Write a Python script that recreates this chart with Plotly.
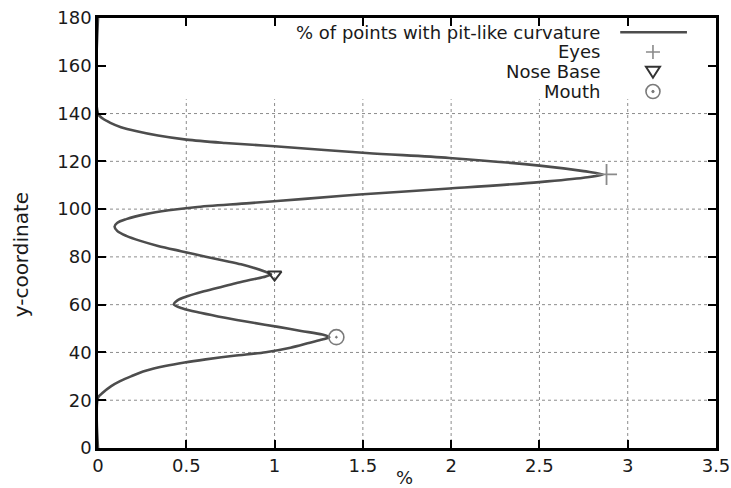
import plotly.graph_objects as go

# Vertical profile: share of points with pit-like curvature per y-coordinate
y_coord = [0, 21, 23, 25.9, 28, 30.1, 32.3, 34.3, 35.8, 37.1, 38.6, 40.1, 42, 44.1,
           45.4, 46.4, 47.5, 49, 50.7, 52.4, 54.5, 56.6, 58.4, 60.1, 61.8, 63.6,
           65.4, 67.1, 69, 70.6, 71.8, 72.7, 74, 75.5, 76.9, 78.5, 80.1, 82.4,
           84.6, 86.7, 88.8, 90.8, 92.7, 94.3, 95.8, 97.9, 99.5, 100.8, 102.5,
           104.3, 106.1, 108.6, 111.3, 113.1, 114.5, 115.9, 118.2, 121.4, 123.5,
           126.3, 127.7, 129.1, 130.8, 132.6, 134.3, 136.1, 138, 140, 180]
pct = [0, 0, 0.025, 0.075, 0.125, 0.19, 0.27, 0.38, 0.49, 0.61, 0.77, 0.95, 1.09, 1.20,
       1.27, 1.31, 1.27, 1.15, 1.02, 0.88, 0.72, 0.58, 0.48, 0.43, 0.45, 0.51,
       0.59, 0.68, 0.78, 0.88, 0.95, 0.98, 0.94, 0.88, 0.81, 0.71, 0.61, 0.47,
       0.34, 0.24, 0.16, 0.11, 0.094, 0.11, 0.16, 0.27, 0.40, 0.55, 0.86,
       1.17, 1.48, 1.99, 2.50, 2.75, 2.86, 2.75, 2.50, 1.99, 1.52,
       1.00, 0.72, 0.50, 0.34, 0.22, 0.13, 0.07, 0.025, 0, 0]

# Facial landmarks
eyes_x, eyes_y = [2.88], [114.5]
nose_x, nose_y = [1.0], [72.6]
mouth_x, mouth_y = [1.35], [46.4]

x_ticks = [0, 0.5, 1, 1.5, 2, 2.5, 3, 3.5]
x_tick_text = ["0", "0.5", "1", "1.5", "2", "2.5", "3", "3.5"]
y_ticks = [0, 20, 40, 60, 80, 100, 120, 140, 160, 180]

key_labels = ["% of points with pit-like curvature", "Eyes", "Nose Base", "Mouth"]
x_title = "%"
y_title = "y-coordinate"

FONT = "DejaVu Sans"
TXT = "#1a1a1a"
CURVE = "#4d4d4d"
EYE_C = "#8a8a8a"
NOSE_C = "#333333"
MOUTH_C = "#7a7a7a"
GRID_C = "#8c8c8c"

fig = go.Figure()

fig.add_trace(go.Scatter(x=pct, y=y_coord, mode="lines",
                         line=dict(color=CURVE, width=2.6, shape="spline", smoothing=0.9),
                         name=key_labels[0]))
fig.add_trace(go.Scatter(x=eyes_x, y=eyes_y, mode="markers", name=key_labels[1],
                         marker=dict(symbol="cross-thin-open", size=15, color=EYE_C,
                                     line=dict(color=EYE_C, width=1.8))))
fig.add_trace(go.Scatter(x=nose_x, y=nose_y, mode="markers", name=key_labels[2],
                         marker=dict(symbol="triangle-down-open", size=12, color=NOSE_C,
                                     line=dict(color=NOSE_C, width=2))))
fig.add_trace(go.Scatter(x=mouth_x, y=mouth_y, mode="markers", name=key_labels[3],
                         marker=dict(symbol="circle-open-dot", size=15, color=MOUTH_C,
                                     line=dict(color=MOUTH_C, width=1.6))))

# Dotted grid, kept below the key area
shapes = []
grid_top = 146
for xv in x_ticks[1:-1]:
    shapes.append(dict(type="line", xref="x", yref="y", x0=xv, x1=xv, y0=0, y1=grid_top,
                       line=dict(color=GRID_C, width=1, dash="dot"), layer="below"))
for yv in y_ticks[1:8]:
    shapes.append(dict(type="line", xref="x", yref="y", x0=0, x1=3.5, y0=yv, y1=yv,
                       line=dict(color=GRID_C, width=1, dash="dot"), layer="below"))

# Key: right-aligned labels with samples drawn to their right
key_ys = [0.967, 0.921, 0.875, 0.829]
key_text_x = 0.8155
key_sample_x = 0.898
annotations = []
for lab, ky in zip(key_labels, key_ys):
    annotations.append(dict(xref="paper", yref="paper", x=key_text_x, y=ky, text=lab,
                            showarrow=False, xanchor="right", yanchor="middle",
                            font=dict(family=FONT, size=18, color=TXT)))

def key_shape(ky, **kw):
    base = dict(xref="paper", yref="paper", xsizemode="pixel", ysizemode="pixel",
                xanchor=key_sample_x, yanchor=ky)
    base.update(kw)
    return base

shapes.append(dict(type="line", xref="paper", yref="paper", x0=0.845, x1=0.953,
                   y0=key_ys[0], y1=key_ys[0], line=dict(color=CURVE, width=2.6)))
shapes.append(key_shape(key_ys[1], type="path", path="M-7,0 L7,0 M0,-7 L0,7",
                        line=dict(color=EYE_C, width=1.6)))
shapes.append(key_shape(key_ys[2], type="path", path="M-7,5 L7,5 L0,-6 Z",
                        line=dict(color=NOSE_C, width=2)))
shapes.append(key_shape(key_ys[3], type="circle", x0=-7, x1=7, y0=-7, y1=7,
                        line=dict(color=MOUTH_C, width=1.6)))
shapes.append(key_shape(key_ys[3], type="circle", x0=-1.2, x1=1.2, y0=-1.2, y1=1.2,
                        line=dict(color=MOUTH_C, width=1), fillcolor=MOUTH_C))

# Axis titles
annotations.append(dict(xref="paper", yref="paper", x=0.496, y=-0.068, text=x_title,
                        showarrow=False, xanchor="center", yanchor="middle",
                        font=dict(family=FONT, size=18, color=TXT)))
annotations.append(dict(xref="paper", yref="paper", x=-0.124, y=0.449, text=y_title,
                        showarrow=False, xanchor="center", yanchor="middle", textangle=-90,
                        font=dict(family=FONT, size=20, color=TXT)))

axis_common = dict(showline=True, linecolor="black", linewidth=2.5, mirror="allticks",
                   ticks="inside", ticklen=8, tickwidth=2, tickcolor="black",
                   showgrid=False, zeroline=False, automargin=False,
                   tickfont=dict(family=FONT, size=18, color=TXT))

fig.update_layout(
    width=731, height=488,
    margin=dict(l=98, r=15, t=18, b=40),
    paper_bgcolor="white", plot_bgcolor="white",
    showlegend=False,
    xaxis=dict(range=[0, 3.5], tickvals=x_ticks, ticktext=x_tick_text, **axis_common),
    yaxis=dict(range=[0, 180], tickvals=y_ticks, **axis_common),
    shapes=shapes,
    annotations=annotations,
)

fig.write_html("out.html")
